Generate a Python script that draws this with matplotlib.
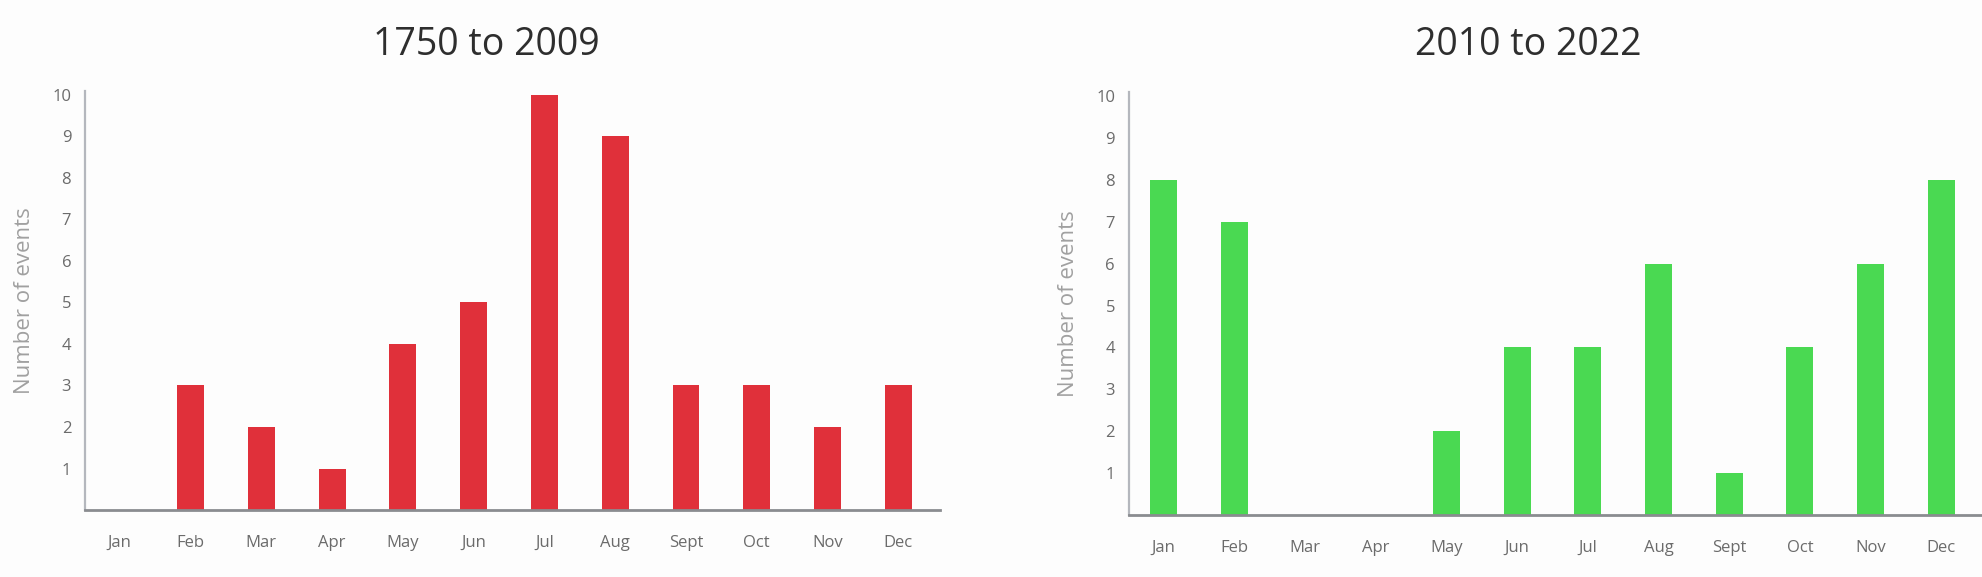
import matplotlib
matplotlib.use("Agg")
import matplotlib.pyplot as plt

months = ["Jan", "Feb", "Mar", "Apr", "May", "Jun", "Jul", "Aug", "Sept", "Oct", "Nov", "Dec"]
events_1750_2009 = [0, 3, 2, 1, 4, 5, 10, 9, 3, 3, 2, 3]
events_2010_2022 = [8, 7, 0, 0, 2, 4, 4, 6, 1, 4, 6, 8]
y_ticks = [1, 2, 3, 4, 5, 6, 7, 8, 9, 10]

plt.rcParams['font.family'] = ['Open Sans', 'DejaVu Sans']
bg = '#fdfdfd'


def draw_panel(ax, values, color):
    x = list(range(len(months)))
    ax.bar(x, values, width=0.38, color=color)
    ax.set_xlim(-0.49, 11.59)
    ax.set_ylim(0, 10.1)
    ax.set_xticks(x)
    ax.set_xticklabels(months, fontsize=12, color='#6b6b6b')
    ax.set_yticks(y_ticks)
    ax.set_yticklabels([str(v) for v in y_ticks], fontsize=12, color='#6b6b6b')
    ax.tick_params(axis='both', length=0)
    ax.tick_params(axis='x', pad=18)
    ax.tick_params(axis='y', pad=10)
    for side in ['top', 'right']:
        ax.spines[side].set_visible(False)
    ax.spines['left'].set_color('#b4b7bd')
    ax.spines['left'].set_linewidth(1.6)
    ax.spines['bottom'].set_color('#8a8c90')
    ax.spines['bottom'].set_linewidth(2)
    ax.set_ylabel('Number of events', fontsize=16, color='#a0a0a0')
    ax.yaxis.set_label_coords(-0.058, 0.5)
    ax.set_facecolor(bg)


fig = plt.figure(figsize=(19.83, 5.77), dpi=100)
fig.patch.set_facecolor(bg)

ax1 = fig.add_axes([0.0429, 0.1161, 0.4312, 0.7265])
draw_panel(ax1, events_1750_2009, '#e0303a')

ax2 = fig.add_axes([0.5693, 0.1074, 0.4307, 0.7335])
draw_panel(ax2, events_2010_2022, '#4ad952')

fig.text(0.245, 0.922, '1750 to 2009', fontsize=27, color='#2e2e2e', ha='center', va='center')
fig.text(0.7705, 0.922, '2010 to 2022', fontsize=27, color='#2e2e2e', ha='center', va='center')

fig.savefig('out.png', dpi=100, facecolor=fig.get_facecolor())
